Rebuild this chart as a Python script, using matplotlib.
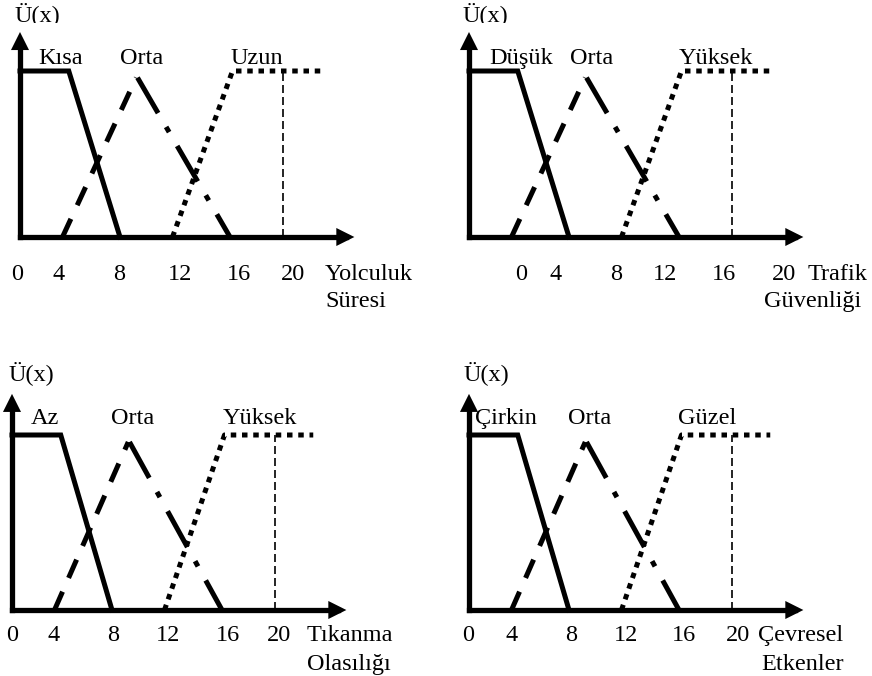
import matplotlib.pyplot as plt
from matplotlib.transforms import Bbox

plt.rcParams['font.family'] = ['Liberation Serif', 'DejaVu Serif']

# membership functions (same shape in every panel)
low_x = [0, 3.9, 8.0]
low_y = [1, 1, 0]
mid_up_x = [3.4, 9.3]
mid_up_y = [0, 0.96]
mid_down_x = [9.4, 16.8]
mid_down_y = [0.96, 0]
high_x = [12.2, 17.0, 24.1]
high_y = [0, 1, 1]
mark_x = 21.0

tick_labels = ['0', '4', '8', '12', '16', '20']

set_names = [['Kısa', 'Orta', 'Uzun'],
             ['Düşük', 'Orta', 'Yüksek'],
             ['Az', 'Orta', 'Yüksek'],
             ['Çirkin', 'Orta', 'Güzel']]
axis_names = [['Yolculuk', 'Süresi'],
              ['Trafik', 'Güvenliği'],
              ['Tıkanma', 'Olasılığı'],
              ['Çevresel', 'Etkenler']]

# layout of each panel: origin in pixels, pixels per y unit
origins = [(20, 237), (469, 237), (12, 610), (469, 610)]
y_scale = [166, 166, 175, 175]
tick_pos = [[-0.24, 3.12, 7.92, 12.8, 17.5, 21.8],
            [4.16, 6.96, 11.76, 15.7, 20.4, 25.2],
            [0.0, 3.3, 8.1, 12.5, 17.3, 21.4],
            [-0.1, 3.4, 8.2, 12.6, 17.2, 21.5]]
tick_y = [-0.259, -0.259, -0.177, -0.177]
name_pos = [[(24.4, -0.259), (24.4, -0.42)],
            [(27.1, -0.259), (23.6, -0.42)],
            [(23.6, -0.177), (23.6, -0.343)],
            [(23.1, -0.177), (23.4, -0.343)]]
label_x = [[3.28, 9.76, 18.96],
           [4.16, 9.84, 19.76],
           [2.64, 9.68, 19.84],
           [2.96, 9.68, 19.04]]
label_y = [1.045, 1.045, 1.06, 1.06]
u_pos = [(-0.4, 1.30), (-0.5, 1.30), (-0.3, 1.314), (-0.4, 1.314)]

W, H = 872, 676
x_scale = 12.5
x_lo, x_hi = -2.0, 30.0
y_lo, y_hi = -0.5, 1.45
tip_x, tip_y = 26.75, 1.235
fs = 17.5
lw = 3.6

fig = plt.figure(figsize=(W / 100, H / 100), dpi=100)
# the top row's Ü(x) is cut off just below the letters in the original
top_cut = Bbox.from_extents(0, H - 22.5, W, H)

for i in range(4):
    ox, oy = origins[i]
    ys = y_scale[i]
    left = ox + x_lo * x_scale
    top = oy - y_hi * ys
    bottom = oy - y_lo * ys
    ax = fig.add_axes([left / W, (H - bottom) / H,
                       (x_hi - x_lo) * x_scale / W, (bottom - top) / H])
    ax.set_xlim(x_lo, x_hi)
    ax.set_ylim(y_lo, y_hi)
    ax.axis('off')

    # axes with arrow heads
    ax.plot([0, 0], [0, tip_y - 0.06], color='black', lw=3.8,
            solid_capstyle='projecting')
    ax.plot([0, tip_x - 0.7], [0, 0], color='black', lw=3.8,
            solid_capstyle='projecting')
    head = '-|>,head_length=1.3,head_width=0.65'
    ax.annotate('', xy=(0, tip_y), xytext=(0, 0),
                arrowprops=dict(arrowstyle=head, color='black', lw=0,
                                shrinkA=0, shrinkB=0, mutation_scale=10))
    ax.annotate('', xy=(tip_x, 0), xytext=(0, 0),
                arrowprops=dict(arrowstyle=head, color='black', lw=0,
                                shrinkA=0, shrinkB=0, mutation_scale=10))

    ax.plot(low_x, low_y, color='black', lw=lw, solid_joinstyle='miter')
    ax.plot(mid_up_x, mid_up_y, color='black', lw=lw,
            linestyle=(0, (4.0, 3.0)), dash_capstyle='butt')
    ax.plot(mid_down_x, mid_down_y, color='black', lw=lw,
            linestyle=(0, (8.2, 3.2, 1.2, 3.2)), dash_capstyle='butt')
    ax.plot(high_x, high_y, color='black', lw=lw,
            linestyle=(0, (1.1, 1.15)), dash_capstyle='butt')
    ax.plot([mark_x, mark_x], [0, 1], color='black', lw=1.2,
            linestyle=(0, (4.8, 2.4)))

    for name, lx in zip(set_names[i], label_x[i]):
        ax.text(lx, label_y[i], name, ha='center', va='baseline',
                fontsize=fs, clip_on=False)
    for lab, tx in zip(tick_labels, tick_pos[i]):
        ax.text(tx, tick_y[i], lab, ha='center', va='baseline',
                fontsize=fs, clip_on=False)
    for name, (nx, ny) in zip(axis_names[i], name_pos[i]):
        ax.text(nx, ny, name, ha='left', va='baseline', fontsize=fs,
                clip_on=False)
    u = ax.text(u_pos[i][0], u_pos[i][1], 'Ü(x)', ha='left', va='baseline',
                fontsize=fs, clip_on=False)
    if i < 2:
        u.set_clip_on(True)
        u.set_clip_box(top_cut)

fig.savefig('out.png', dpi=100)
